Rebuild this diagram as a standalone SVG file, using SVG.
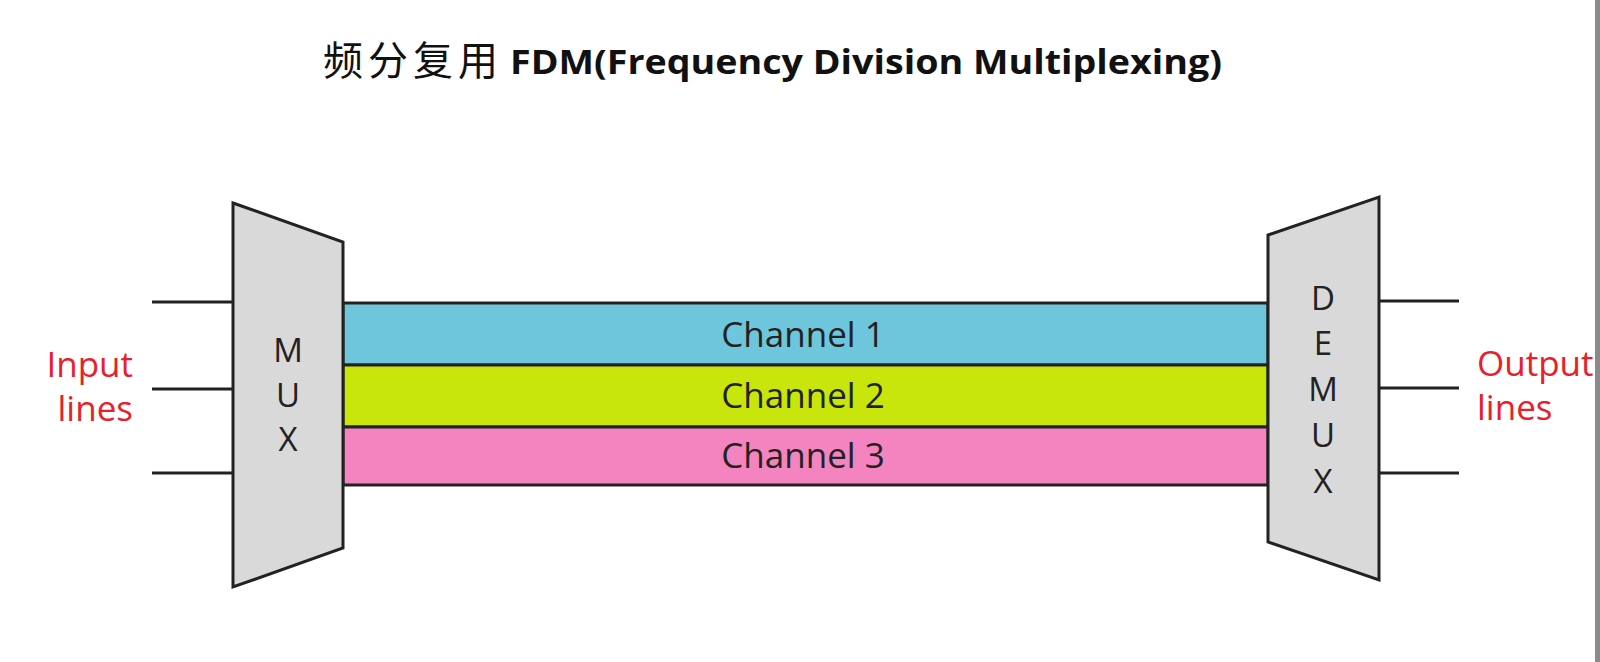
<svg xmlns="http://www.w3.org/2000/svg" width="1600" height="662" viewBox="0 0 1600 662">
<style>
.ln{stroke:#222;stroke-width:3;fill:none;stroke-linecap:butt}
.box{fill:#d9d9d9;stroke:#222;stroke-width:3;stroke-linejoin:miter}
.band{stroke:#222;stroke-width:3}
.lbl{font-family:"Open Sans","Noto Sans",sans-serif;font-size:35px;fill:#222}
.let{font-family:"Open Sans","Noto Sans",sans-serif;font-size:33px;fill:#222}
.red{font-family:"Open Sans","Noto Sans",sans-serif;font-size:35px;fill:#e8202a}
.ttl{font-family:"Open Sans","Liberation Sans",sans-serif;font-weight:bold;font-size:34px;fill:#111}
.cjk{font-family:"Noto Sans CJK SC",sans-serif;font-size:40px;fill:#111}
</style>
<rect width="1600" height="662" fill="#ffffff"/>
<rect x="1595" y="0" width="5" height="662" fill="#8a8a8a"/>
<g id="title">
<text class="cjk" x="323 368 413 458" y="75">频分复用</text>
<text class="ttl" x="510" y="74" textLength="712" lengthAdjust="spacingAndGlyphs">FDM(Frequency Division Multiplexing)</text>
</g>
<g id="connectors">
<line class="ln" x1="152" y1="302" x2="233" y2="302"/>
<line class="ln" x1="152" y1="389" x2="233" y2="389"/>
<line class="ln" x1="152" y1="473" x2="233" y2="473"/>
<line class="ln" x1="1379" y1="301" x2="1459" y2="301"/>
<line class="ln" x1="1379" y1="388" x2="1459" y2="388"/>
<line class="ln" x1="1379" y1="473" x2="1459" y2="473"/>
</g>
<g id="channel1">
<rect class="band" x="343" y="303" width="925" height="62" fill="#6ec6dc"/>
<text class="lbl" x="803" y="347" text-anchor="middle">Channel 1</text>
</g>
<g id="channel2">
<rect class="band" x="343" y="365" width="925" height="62" fill="#c8e60c"/>
<text class="lbl" x="803" y="408" text-anchor="middle">Channel 2</text>
</g>
<g id="channel3">
<rect class="band" x="343" y="427" width="925" height="58" fill="#f484c0"/>
<text class="lbl" x="803" y="468" text-anchor="middle">Channel 3</text>
</g>
<g id="mux">
<polygon class="box" points="233,203 343,242 343,548 233,587"/>
<text class="let" x="288" y="362" text-anchor="middle">M</text>
<text class="let" x="288" y="407" text-anchor="middle">U</text>
<text class="let" x="288" y="451" text-anchor="middle">X</text>
</g>
<g id="demux">
<polygon class="box" points="1268,235 1379,197 1379,580 1268,542"/>
<text class="let" x="1323" y="310" text-anchor="middle">D</text>
<text class="let" x="1323" y="355" text-anchor="middle">E</text>
<text class="let" x="1323" y="401" text-anchor="middle">M</text>
<text class="let" x="1323" y="447" text-anchor="middle">U</text>
<text class="let" x="1323" y="493" text-anchor="middle">X</text>
</g>
<g id="input-label">
<text class="red" x="133" y="377" text-anchor="end">Input</text>
<text class="red" x="133" y="421" text-anchor="end">lines</text>
</g>
<g id="output-label">
<text class="red" x="1477" y="376">Output</text>
<text class="red" x="1477" y="420">lines</text>
</g>
</svg>
